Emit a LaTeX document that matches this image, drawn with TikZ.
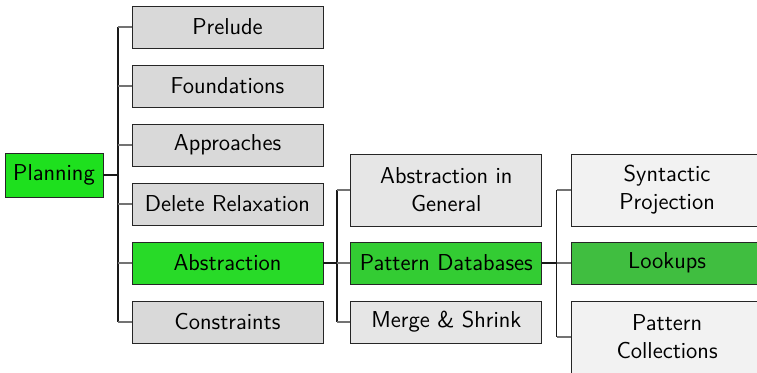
\documentclass[tikz,border=0pt]{standalone}
\usetikzlibrary{positioning}
\definecolor{rootgreen}{RGB}{30,224,30}
\definecolor{greenone}{RGB}{40,218,40}
\definecolor{greentwo}{RGB}{51,204,51}
\definecolor{greenthree}{RGB}{64,190,64}
\definecolor{grayone}{RGB}{217,217,217}
\definecolor{graytwo}{RGB}{230,230,230}
\definecolor{graythree}{RGB}{242,242,242}
\tikzset{%
  topic/.style={rectangle, draw=black!85, font=\sffamily\fontsize{11.5}{14}\selectfont, align=center, minimum width=95.5pt, minimum height=21pt, inner sep=2pt},
  twoline/.style={topic, minimum height=36pt},
  rootblock/.style={topic, fill=rootgreen, minimum width=49pt, minimum height=22pt},
  lightone/.style={topic, fill=grayone},
  lighttwo/.style={topic, fill=graytwo},
  lightthree/.style={topic, fill=graythree},
  trunk/.style={draw, black!90, line width=0.6pt},
  branch/.style={draw, black!55, line width=0.6pt}}

\begin{document}
\begin{tikzpicture}
    \useasboundingbox (0,0) rectangle (378.5pt,-186pt);
    % Root
    \node (planning) [rootblock] at (27pt,-87.5pt) {Planning};
    % First level
    \node (prelude) [lightone] at (113.75pt,-13.5pt) {Prelude};
    \node (foundations) [lightone, below=8.1pt of prelude] {Foundations};
    \node (approaches) [lightone, below=8.1pt of foundations] {Approaches};
    \node (delrelax) [lightone, below=8.1pt of approaches] {Delete Relaxation};
    \node (abstraction) [lightone, fill=greenone, below=8.1pt of delrelax] {Abstraction};
    \node (constraints) [lightone, below=8.1pt of abstraction] {Constraints};
    % Second level
    \node (patterndb) [lighttwo, fill=greentwo, right=13.5pt of abstraction] {Pattern Databases};
    \node (absgeneral) [lighttwo, twoline, above=7.6pt of patterndb] {Abstraction in\\General};
    \node (mergeshrink) [lighttwo, below=8.1pt of patterndb] {Merge \& Shrink};
    % Third level
    \node (lookups) [lightthree, fill=greenthree, right=14.5pt of patterndb] {Lookups};
    \node (syntproj) [lightthree, twoline, above=7.6pt of lookups] {Syntactic\\Projection};
    \node (patcoll) [lightthree, twoline, below=8.1pt of lookups] {Pattern\\Collections};
    % Connectors
    \draw[trunk] (planning.east) -- ++(7.25pt,0) coordinate (trunkone);
    \draw[trunk] (trunkone |- prelude) -- (trunkone |- constraints);
    \foreach \child in {prelude, foundations, approaches, delrelax, abstraction, constraints}
      \draw[branch] (trunkone |- \child) -- (\child.west);
    \draw[trunk] (abstraction.east) -- ++(6.75pt,0) coordinate (trunktwo);
    \draw[trunk] (trunktwo |- absgeneral) -- (trunktwo |- mergeshrink);
    \foreach \child in {absgeneral, patterndb, mergeshrink}
      \draw[branch] (trunktwo |- \child) -- (\child.west);
    \draw[trunk] (patterndb.east) -- ++(7.25pt,0) coordinate (trunkthree);
    \draw[trunk] (trunkthree |- syntproj) -- (trunkthree |- patcoll);
    \foreach \child in {syntproj, lookups, patcoll}
      \draw[branch] (trunkthree |- \child) -- (\child.west);
\end{tikzpicture}
\end{document}
